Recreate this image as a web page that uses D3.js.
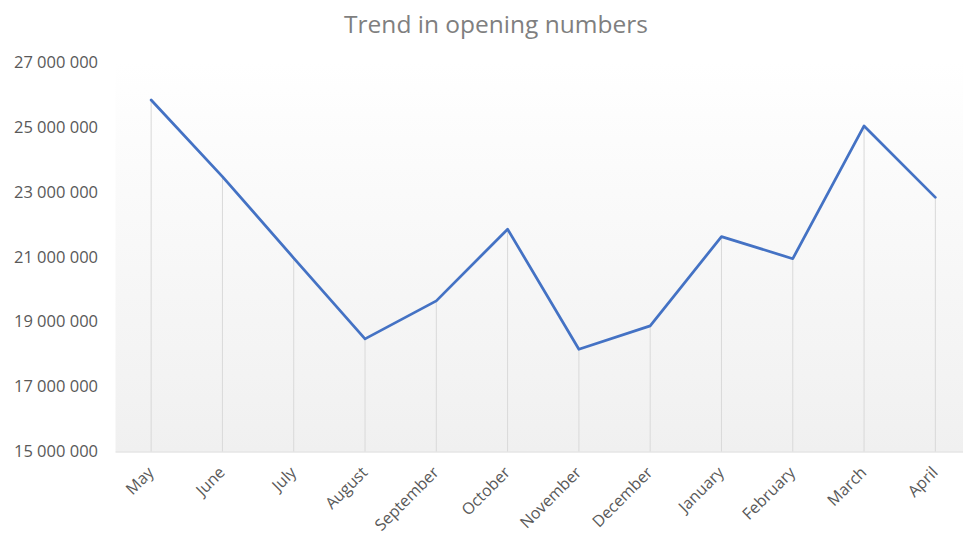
<!DOCTYPE html>
<html><head><meta charset="utf-8">
<script src="https://cdn.jsdelivr.net/npm/d3@7"></script>
<style>body{margin:0;background:#fff}svg{display:block}</style>
</head><body>
<script>
const months = ["May","June","July","August","September","October","November","December","January","February","March","April"];
const values = [25830000,23470000,20960000,18470000,19640000,21850000,18150000,18870000,21620000,20940000,25030000,22830000];
const yTicks = [15000000,17000000,19000000,21000000,23000000,25000000,27000000];
const title = "Trend in opening numbers";

(function(){
const W = 963, H = 534;
const svg = d3.select("body").append("svg").attr("width", W).attr("height", H);
const pL = 115.5, pR = 971, pT = 62, pB = 451.5;

const x = d3.scalePoint().domain(months).range([pL, pR]).padding(0.5);
const y = d3.scaleLinear().domain([15000000, 27000000]).range([pB, pT]);

const defs = svg.append("defs");
const g = defs.append("linearGradient").attr("id","bg").attr("x1",0).attr("y1",0).attr("x2",0).attr("y2",1);
g.append("stop").attr("offset","0%").attr("stop-color","#ffffff");
g.append("stop").attr("offset","100%").attr("stop-color","#f0f0f0");

svg.append("rect").attr("x", pL).attr("y", pT).attr("width", W - pL).attr("height", pB - pT).attr("fill","url(#bg)");

svg.append("text").attr("x", 496).attr("y", 33).attr("text-anchor","middle")
  .attr("font-family","Open Sans, sans-serif").attr("font-size", 24.5).attr("fill","#7f7f7f").text(title);

const fmt = v => d3.format(",")(v).replace(/,/g, " ");
const yAxis = d3.axisLeft(y).tickValues(yTicks).tickFormat(fmt).tickSize(0).tickPadding(17.5);
const ya = svg.append("g").attr("transform", `translate(${pL},0)`).call(yAxis);
ya.select(".domain").remove();
ya.selectAll("text").attr("font-family","Open Sans, sans-serif").attr("font-size",16.5).attr("fill","#595959");

svg.append("g").selectAll("line").data(months).join("line")
  .attr("x1", d => x(d)).attr("x2", d => x(d))
  .attr("y1", (d,i) => y(values[i])).attr("y2", pB)
  .attr("stroke","#d9d9d9").attr("stroke-width",1);

const xAxis = d3.axisBottom(x).tickSize(0).tickPadding(0);
const xa = svg.append("g").attr("transform", `translate(0,${pB})`).call(xAxis);
xa.select(".domain").attr("stroke","#d9d9d9").attr("d", `M${pL},0.5H${W}`);
xa.selectAll("text").attr("font-family","Open Sans, sans-serif").attr("font-size",16).attr("fill","#595959")
  .attr("text-anchor","end").attr("dy",0).attr("y",0)
  .attr("transform","translate(3,22) rotate(-45)");

const line = d3.line().x((d,i) => x(months[i])).y(d => y(d));
svg.append("path").datum(values).attr("d", line).attr("fill","none")
  .attr("stroke","#4472C4").attr("stroke-width",2.75).attr("stroke-linejoin","round").attr("stroke-linecap","round");
})();
</script>
</body></html>
